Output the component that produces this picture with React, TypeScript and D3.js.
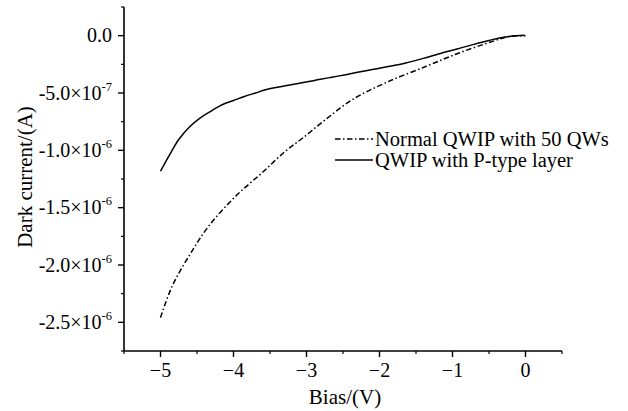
import React from "react";
import * as d3 from "d3";

// Bias (V) and dark current (units of 1e-7 A)
const normalBias = [-5.0, -4.84, -4.61, -4.34, -3.97, -3.61, -3.29, -3.06, -2.74, -2.37, -1.92, -1.36, -0.91, -0.45, -0.22, 0];
const normalCurrent = [-24.59, -21.84, -19.22, -16.61, -14.0, -11.96, -10.08, -8.97, -7.32, -5.57, -4.12, -2.67, -1.51, -0.5, -0.06, 0];

const pBias = [-5.0, -4.93, -4.86, -4.75, -4.6, -4.45, -4.3, -4.15, -4.0, -3.85, -3.7, -3.56, -3.4, -3.29, -3.1, -2.95, -2.83, -2.65, -2.46, -2.3, -2.1, -1.9, -1.64, -1.4, -1.18, -0.95, -0.72, -0.5, -0.36, -0.2, -0.01];
const pCurrent = [-11.82, -11.0, -10.22, -9.06, -7.95, -7.15, -6.55, -6.0, -5.65, -5.3, -5.0, -4.72, -4.5, -4.36, -4.15, -3.98, -3.83, -3.62, -3.4, -3.2, -2.96, -2.72, -2.38, -1.98, -1.57, -1.18, -0.78, -0.42, -0.2, -0.06, 0.03];

const xTicks = [-5, -4, -3, -2, -1, 0];
const xMinorTicks = [-5.5, -4.5, -3.5, -2.5, -1.5, -0.5, 0.5];
const yTicks = [0, -5, -10, -15, -20, -25];
const yMinorTicks = [2.5, -2.5, -7.5, -12.5, -17.5, -22.5, -27.5];
const yTickMantissa = ["0.0", "-5.0×10", "-1.0×10", "-1.5×10", "-2.0×10", "-2.5×10"];
const yTickExponent = ["", "-7", "-6", "-6", "-6", "-6"];
const xTickLabels = ["−5", "−4", "−3", "−2", "−1", "0"];

const legendLabels = ["Normal QWIP with 50 QWs", "QWIP with P-type layer"];
const xTitle = "Bias/(V)";
const yTitle = "Dark current/(A)";

export default function App() {
  const W = 628, H = 411;
  const left = 124, right = 562, top = 7, bottom = 351;
  const x = d3.scaleLinear().domain([-5.5, 0.5]).range([left, right]);
  const y = d3.scaleLinear().domain([-27.5, 2.5]).range([bottom, top]);
  const font = "'Liberation Serif', 'Times New Roman', serif";

  const line = d3.line<[number, number]>().x(d => x(d[0])).y(d => y(d[1])).curve(d3.curveCatmullRom);
  const normalPath = line(normalBias.map((b, i) => [b, normalCurrent[i]]))!;
  const pPath = line(pBias.map((b, i) => [b, pCurrent[i]]))!;
  const dashDot = "5.5,2.5,1.5,2.5";

  return (
    <svg width={W} height={H} style={{ position: "absolute", left: 0, top: 0, background: "#fff" }}>
      <rect width={W} height={H} fill="#fff" />
      {/* axes */}
      <line x1={left} x2={left} y1={top} y2={bottom} stroke="#000" strokeWidth={1.6} />
      <line x1={left} x2={right} y1={bottom} y2={bottom} stroke="#000" strokeWidth={1.6} />
      {xTicks.map((t, i) => (
        <g key={"xt" + i}>
          <line x1={x(t)} x2={x(t)} y1={bottom} y2={bottom + 6} stroke="#000" strokeWidth={1.4} />
          <text x={x(t)} y={bottom + 26} fontSize={20} fontFamily={font} textAnchor="middle">{xTickLabels[i]}</text>
        </g>
      ))}
      {xMinorTicks.map((t, i) => (
        <line key={"xm" + i} x1={x(t)} x2={x(t)} y1={bottom} y2={bottom + 3} stroke="#000" strokeWidth={1.2} />
      ))}
      {yTicks.map((t, i) => (
        <g key={"yt" + i}>
          <line x1={left - 6} x2={left} y1={y(t)} y2={y(t)} stroke="#000" strokeWidth={1.4} />
          <text x={left - 12} y={y(t) + 6.5} fontSize={20} fontFamily={font} textAnchor="end">
            {yTickMantissa[i]}
            {yTickExponent[i] && <tspan fontSize={12.5} dy={-9}>{yTickExponent[i]}</tspan>}
          </text>
        </g>
      ))}
      {yMinorTicks.map((t, i) => (
        <line key={"ym" + i} x1={left - 3} x2={left} y1={y(t)} y2={y(t)} stroke="#000" strokeWidth={1.2} />
      ))}
      <text x={(left + right) / 2 + 2} y={404} fontSize={21} fontFamily={font} textAnchor="middle">{xTitle}</text>
      <text transform={`translate(32,${(top + bottom) / 2 - 2}) rotate(-90)`} fontSize={21} fontFamily={font} textAnchor="middle">{yTitle}</text>

      {/* data */}
      <path d={normalPath} fill="none" stroke="#000" strokeWidth={1.5} strokeDasharray={dashDot} />
      <path d={pPath} fill="none" stroke="#000" strokeWidth={1.5} />

      {/* legend */}
      <line x1={335} x2={373} y1={139} y2={139} stroke="#000" strokeWidth={1.5} strokeDasharray={dashDot} />
      <text x={375} y={146} fontSize={20.5} fontFamily={font}>{legendLabels[0]}</text>
      <line x1={335} x2={373} y1={160} y2={160} stroke="#000" strokeWidth={1.5} />
      <text x={375} y={167} fontSize={20.5} fontFamily={font}>{legendLabels[1]}</text>
    </svg>
  );
}
